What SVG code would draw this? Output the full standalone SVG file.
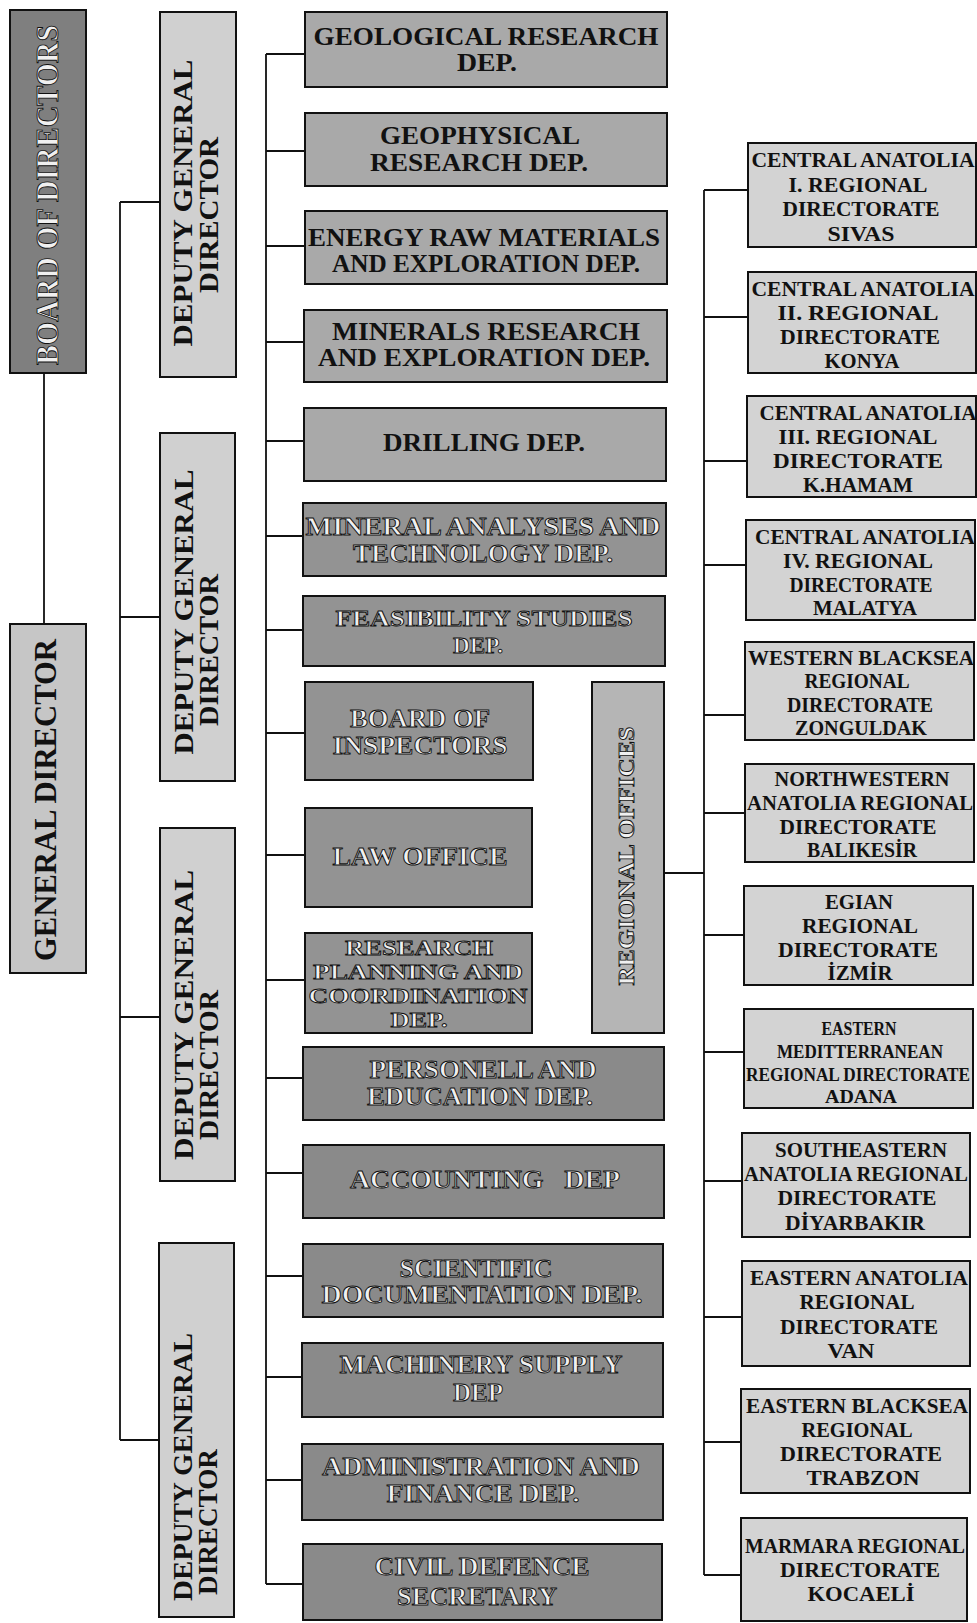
<svg xmlns="http://www.w3.org/2000/svg" width="977" height="1623" viewBox="0 0 977 1623">
<style>
.bx{stroke:#111;stroke-width:2}
.bod{fill:#7f7f7f}
.gd{fill:#c6c6c6}
.dep{fill:#d0d0d0}
.d1{fill:#a9a9a9}
.d2{fill:#939393}
.d3{fill:#8a8a8a}
.ro{fill:#b5b5b5}
.rg{fill:#d3d3d3}
text{font-family:"Liberation Serif","Times New Roman",serif;font-weight:bold;text-anchor:middle}
.t{fill:#111}
.h{fill:#f0f0f0;stroke:#111;stroke-width:0.9}
.dt{font-size:25px}
.rt{font-size:21px;font-weight:bold}
.sm{font-size:18px}
.vt{font-size:28px}
.big{font-size:31px}
.c{fill:none;stroke:#111;stroke-width:1.8}
</style>
<g id="connectors">
<path class="c" d="M44,373V624"/>
<path class="c" d="M120,202V1440M120,202H160M120,617H160M120,1017H160M120,1440H160"/>
<path class="c" d="M266,54V1584M266,54H305M266,151H305M266,246H305M266,342H305M266,441H304M266,536H303M266,630H303M266,733H305M266,855H305M266,980H305M266,1078H303M266,1173H303M266,1276H303M266,1377H302M266,1480H302M266,1584H303"/>
<path class="c" d="M664,873H704M704,190V1575M704,190H748M704,317H748M704,461H747M704,565H746M704,715H745M704,813H745M704,935H744M704,1052H744M704,1181H742M704,1317H742M704,1442H741M704,1575H741"/>
</g>
<g id="board-of-directors"><rect class="bx bod" x="10" y="10" width="76" height="363"/><text class="big h" transform="translate(58,195) rotate(-90)" textLength="340" lengthAdjust="spacingAndGlyphs">BOARD OF DIRECTORS</text></g>
<g id="general-director"><rect class="bx gd" x="10" y="624" width="76" height="349"/><text class="big t" transform="translate(56,800) rotate(-90)" textLength="322" lengthAdjust="spacingAndGlyphs">GENERAL DIRECTOR</text></g>
<g id="deputy-1"><rect class="bx dep" x="160" y="12" width="76" height="365"/><text class="vt t" transform="translate(192,203) rotate(-90)" textLength="287" lengthAdjust="spacingAndGlyphs">DEPUTY GENERAL</text><text class="vt t" transform="translate(218,215) rotate(-90)" textLength="156" lengthAdjust="spacingAndGlyphs">DIRECTOR</text></g>
<g id="deputy-2"><rect class="bx dep" x="160" y="433" width="75" height="348"/><text class="vt t" transform="translate(193,612) rotate(-90)" textLength="285" lengthAdjust="spacingAndGlyphs">DEPUTY GENERAL</text><text class="vt t" transform="translate(218,650) rotate(-90)" textLength="152" lengthAdjust="spacingAndGlyphs">DIRECTOR</text></g>
<g id="deputy-3"><rect class="bx dep" x="160" y="828" width="75" height="353"/><text class="vt t" transform="translate(193,1015) rotate(-90)" textLength="290" lengthAdjust="spacingAndGlyphs">DEPUTY GENERAL</text><text class="vt t" transform="translate(218,1065) rotate(-90)" textLength="150" lengthAdjust="spacingAndGlyphs">DIRECTOR</text></g>
<g id="deputy-4"><rect class="bx dep" x="159" y="1243" width="75" height="374"/><text class="vt t" transform="translate(192,1467) rotate(-90)" textLength="268" lengthAdjust="spacingAndGlyphs">DEPUTY GENERAL</text><text class="vt t" transform="translate(217,1522) rotate(-90)" textLength="146" lengthAdjust="spacingAndGlyphs">DIRECTOR</text></g>

<g id="geological"><rect class="bx d1" x="305" y="12" width="362" height="75"/><text class="dt t" x="486" y="45" textLength="345" lengthAdjust="spacingAndGlyphs">GEOLOGICAL RESEARCH</text><text class="dt t" x="487" y="71" textLength="60" lengthAdjust="spacingAndGlyphs">DEP.</text></g>
<g id="geophysical"><rect class="bx d1" x="305" y="113" width="362" height="73"/><text class="dt t" x="480" y="144" textLength="200" lengthAdjust="spacingAndGlyphs">GEOPHYSICAL</text><text class="dt t" x="479" y="171" textLength="218" lengthAdjust="spacingAndGlyphs">RESEARCH DEP.</text></g>
<g id="energy"><rect class="bx d1" x="305" y="211" width="362" height="73"/><text class="dt t" x="484" y="246" textLength="352" lengthAdjust="spacingAndGlyphs">ENERGY RAW MATERIALS</text><text class="dt t" x="486" y="272" textLength="308" lengthAdjust="spacingAndGlyphs">AND EXPLORATION DEP.</text></g>
<g id="minerals"><rect class="bx d1" x="304" y="310" width="363" height="72"/><text class="dt t" x="486" y="340" textLength="308" lengthAdjust="spacingAndGlyphs">MINERALS RESEARCH</text><text class="dt t" x="484" y="366" textLength="332" lengthAdjust="spacingAndGlyphs">AND EXPLORATION DEP.</text></g>
<g id="drilling"><rect class="bx d1" x="304" y="408" width="362" height="73"/><text class="dt t" x="484" y="451" textLength="202" lengthAdjust="spacingAndGlyphs">DRILLING DEP.</text></g>
<g id="mineral-analyses"><rect class="bx d2" x="303" y="503" width="363" height="73"/><text class="dt h" x="483" y="535" textLength="355" lengthAdjust="spacingAndGlyphs">MINERAL ANALYSES AND</text><text class="dt h" x="483" y="562" textLength="260" lengthAdjust="spacingAndGlyphs">TECHNOLOGY DEP.</text></g>
<g id="feasibility"><rect class="bx d2" x="303" y="596" width="362" height="70"/><text class="h" style="font-size:23px" x="484" y="626" textLength="297" lengthAdjust="spacingAndGlyphs">FEASIBILITY STUDIES</text><text class="h" style="font-size:23px" x="478" y="653" textLength="50" lengthAdjust="spacingAndGlyphs">DEP.</text></g>
<g id="board-of-inspectors"><rect class="bx d2" x="305" y="682" width="228" height="98"/><text class="dt h" x="420" y="727" textLength="140" lengthAdjust="spacingAndGlyphs">BOARD OF</text><text class="dt h" x="420" y="754" textLength="175" lengthAdjust="spacingAndGlyphs">INSPECTORS</text></g>
<g id="law-office"><rect class="bx d2" x="305" y="808" width="227" height="99"/><text class="dt h" x="420" y="865" textLength="175" lengthAdjust="spacingAndGlyphs">LAW OFFICE</text></g>
<g id="research-planning"><rect class="bx d2" x="305" y="933" width="227" height="100"/><text class="h" style="font-size:22px" x="419" y="955" textLength="148" lengthAdjust="spacingAndGlyphs">RESEARCH</text><text class="h" style="font-size:22px" x="418" y="979" textLength="210" lengthAdjust="spacingAndGlyphs">PLANNING AND</text><text class="h" style="font-size:22px" x="418" y="1003" textLength="219" lengthAdjust="spacingAndGlyphs">COORDINATION</text><text class="h" style="font-size:22px" x="419" y="1027" textLength="57" lengthAdjust="spacingAndGlyphs">DEP.</text></g>
<g id="regional-offices"><rect class="bx ro" x="592" y="682" width="72" height="351"/><text class="h" style="font-size:24px" transform="translate(634,856) rotate(-90)" textLength="259" lengthAdjust="spacingAndGlyphs">REGIONAL OFFICES</text></g>
<g id="personell"><rect class="bx d3" x="303" y="1047" width="361" height="73"/><text class="dt h" x="483" y="1078" textLength="227" lengthAdjust="spacingAndGlyphs">PERSONELL AND</text><text class="dt h" x="480" y="1105" textLength="226" lengthAdjust="spacingAndGlyphs">EDUCATION DEP.</text></g>
<g id="accounting"><rect class="bx d3" x="303" y="1145" width="361" height="73"/><text class="dt h" style="white-space:pre" x="485" y="1188" textLength="270" lengthAdjust="spacingAndGlyphs">ACCOUNTING   DEP</text></g>
<g id="scientific"><rect class="bx d3" x="303" y="1244" width="360" height="73"/><text class="dt h" x="476" y="1277" textLength="153" lengthAdjust="spacingAndGlyphs">SCIENTIFIC</text><text class="dt h" x="482" y="1303" textLength="321" lengthAdjust="spacingAndGlyphs">DOCUMENTATION DEP.</text></g>
<g id="machinery"><rect class="bx d3" x="302" y="1343" width="361" height="74"/><text class="dt h" x="481" y="1373" textLength="283" lengthAdjust="spacingAndGlyphs">MACHINERY SUPPLY</text><text class="dt h" x="478" y="1401" textLength="50" lengthAdjust="spacingAndGlyphs">DEP</text></g>
<g id="administration"><rect class="bx d3" x="302" y="1444" width="361" height="76"/><text class="dt h" x="481" y="1475" textLength="318" lengthAdjust="spacingAndGlyphs">ADMINISTRATION AND</text><text class="dt h" x="483" y="1502" textLength="193" lengthAdjust="spacingAndGlyphs">FINANCE DEP.</text></g>
<g id="civil-defence"><rect class="bx d3" x="303" y="1544" width="359" height="76"/><text class="dt h" x="482" y="1575" textLength="215" lengthAdjust="spacingAndGlyphs">CIVIL DEFENCE</text><text class="dt h" x="477" y="1605" textLength="160" lengthAdjust="spacingAndGlyphs">SECRETARY</text></g>

<g id="reg-sivas"><rect class="bx rg" x="748" y="143" width="228" height="104"/><text class="rt t" x="863" y="167" textLength="223" lengthAdjust="spacingAndGlyphs">CENTRAL ANATOLIA</text><text class="rt t" x="858" y="192" textLength="139" lengthAdjust="spacingAndGlyphs">I. REGIONAL</text><text class="rt t" x="861" y="216" textLength="157" lengthAdjust="spacingAndGlyphs">DIRECTORATE</text><text class="rt t" x="861" y="241" textLength="67" lengthAdjust="spacingAndGlyphs">SIVAS</text></g>
<g id="reg-konya"><rect class="bx rg" x="748" y="272" width="228" height="101"/><text class="rt t" x="863" y="296" textLength="223" lengthAdjust="spacingAndGlyphs">CENTRAL ANATOLIA</text><text class="rt t" x="858" y="320" textLength="161" lengthAdjust="spacingAndGlyphs">II. REGIONAL</text><text class="rt t" x="860" y="344" textLength="160" lengthAdjust="spacingAndGlyphs">DIRECTORATE</text><text class="rt t" x="862" y="368" textLength="75" lengthAdjust="spacingAndGlyphs">KONYA</text></g>
<g id="reg-khamam"><rect class="bx rg" x="747" y="396" width="229" height="101"/><text class="rt t" x="868" y="420" textLength="217" lengthAdjust="spacingAndGlyphs">CENTRAL ANATOLIA</text><text class="rt t" x="858" y="444" textLength="159" lengthAdjust="spacingAndGlyphs">III. REGIONAL</text><text class="rt t" x="858" y="468" textLength="170" lengthAdjust="spacingAndGlyphs">DIRECTORATE</text><text class="rt t" x="858" y="492" textLength="110" lengthAdjust="spacingAndGlyphs">K.HAMAM</text></g>
<g id="reg-malatya"><rect class="bx rg" x="746" y="520" width="229" height="100"/><text class="rt t" x="865" y="544" textLength="220" lengthAdjust="spacingAndGlyphs">CENTRAL ANATOLIA</text><text class="rt t" x="858" y="568" textLength="150" lengthAdjust="spacingAndGlyphs">IV. REGIONAL</text><text class="rt t" x="861" y="592" textLength="143" lengthAdjust="spacingAndGlyphs">DIRECTORATE</text><text class="rt t" x="865" y="615" textLength="104" lengthAdjust="spacingAndGlyphs">MALATYA</text></g>
<g id="reg-zonguldak"><rect class="bx rg" x="745" y="642" width="229" height="98"/><text class="rt t" x="861" y="665" textLength="226" lengthAdjust="spacingAndGlyphs">WESTERN BLACKSEA</text><text class="rt t" x="857" y="688" textLength="105" lengthAdjust="spacingAndGlyphs">REGIONAL</text><text class="rt t" x="860" y="712" textLength="146" lengthAdjust="spacingAndGlyphs">DIRECTORATE</text><text class="rt t" x="861" y="735" textLength="132" lengthAdjust="spacingAndGlyphs">ZONGULDAK</text></g>
<g id="reg-balikesir"><rect class="bx rg" x="745" y="764" width="229" height="98"/><text class="rt t" x="862" y="786" textLength="175" lengthAdjust="spacingAndGlyphs">NORTHWESTERN</text><text class="rt t" x="860" y="810" textLength="226" lengthAdjust="spacingAndGlyphs">ANATOLIA REGIONAL</text><text class="rt t" x="858" y="834" textLength="157" lengthAdjust="spacingAndGlyphs">DIRECTORATE</text><text class="rt t" x="862" y="857" textLength="110" lengthAdjust="spacingAndGlyphs">BALIKESİR</text></g>
<g id="reg-izmir"><rect class="bx rg" x="744" y="886" width="229" height="99"/><text class="rt t" x="859" y="909" textLength="68" lengthAdjust="spacingAndGlyphs">EGIAN</text><text class="rt t" x="860" y="933" textLength="116" lengthAdjust="spacingAndGlyphs">REGIONAL</text><text class="rt t" x="858" y="957" textLength="160" lengthAdjust="spacingAndGlyphs">DIRECTORATE</text><text class="rt t" x="860" y="980" textLength="65" lengthAdjust="spacingAndGlyphs">İZMİR</text></g>
<g id="reg-adana"><rect class="bx rg" x="744" y="1009" width="229" height="99"/><text class="sm t" x="859" y="1035" textLength="75" lengthAdjust="spacingAndGlyphs">EASTERN</text><text class="sm t" x="860" y="1058" textLength="166" lengthAdjust="spacingAndGlyphs">MEDITTERRANEAN</text><text class="sm t" x="858" y="1081" textLength="224" lengthAdjust="spacingAndGlyphs">REGIONAL DIRECTORATE</text><text class="sm t" x="861" y="1103" textLength="72" lengthAdjust="spacingAndGlyphs">ADANA</text></g>
<g id="reg-diyarbakir"><rect class="bx rg" x="742" y="1133" width="228" height="104"/><text class="rt t" x="861" y="1157" textLength="172" lengthAdjust="spacingAndGlyphs">SOUTHEASTERN</text><text class="rt t" x="856" y="1181" textLength="224" lengthAdjust="spacingAndGlyphs">ANATOLIA REGIONAL</text><text class="rt t" x="857" y="1205" textLength="159" lengthAdjust="spacingAndGlyphs">DIRECTORATE</text><text class="rt t" x="855" y="1230" textLength="140" lengthAdjust="spacingAndGlyphs">DİYARBAKIR</text></g>
<g id="reg-van"><rect class="bx rg" x="742" y="1261" width="228" height="105"/><text class="rt t" x="859" y="1285" textLength="218" lengthAdjust="spacingAndGlyphs">EASTERN ANATOLIA</text><text class="rt t" x="857" y="1309" textLength="115" lengthAdjust="spacingAndGlyphs">REGIONAL</text><text class="rt t" x="859" y="1334" textLength="158" lengthAdjust="spacingAndGlyphs">DIRECTORATE</text><text class="rt t" x="851" y="1358" textLength="47" lengthAdjust="spacingAndGlyphs">VAN</text></g>
<g id="reg-trabzon"><rect class="bx rg" x="741" y="1389" width="229" height="104"/><text class="rt t" x="857" y="1413" textLength="222" lengthAdjust="spacingAndGlyphs">EASTERN BLACKSEA</text><text class="rt t" x="857" y="1437" textLength="111" lengthAdjust="spacingAndGlyphs">REGIONAL</text><text class="rt t" x="861" y="1461" textLength="162" lengthAdjust="spacingAndGlyphs">DIRECTORATE</text><text class="rt t" x="863" y="1485" textLength="113" lengthAdjust="spacingAndGlyphs">TRABZON</text></g>
<g id="reg-kocaeli"><rect class="bx rg" x="741" y="1518" width="226" height="103"/><text class="rt t" x="855" y="1553" textLength="220" lengthAdjust="spacingAndGlyphs">MARMARA REGIONAL</text><text class="rt t" x="860" y="1577" textLength="160" lengthAdjust="spacingAndGlyphs">DIRECTORATE</text><text class="rt t" x="861" y="1601" textLength="107" lengthAdjust="spacingAndGlyphs">KOCAELİ</text></g>
</svg>
